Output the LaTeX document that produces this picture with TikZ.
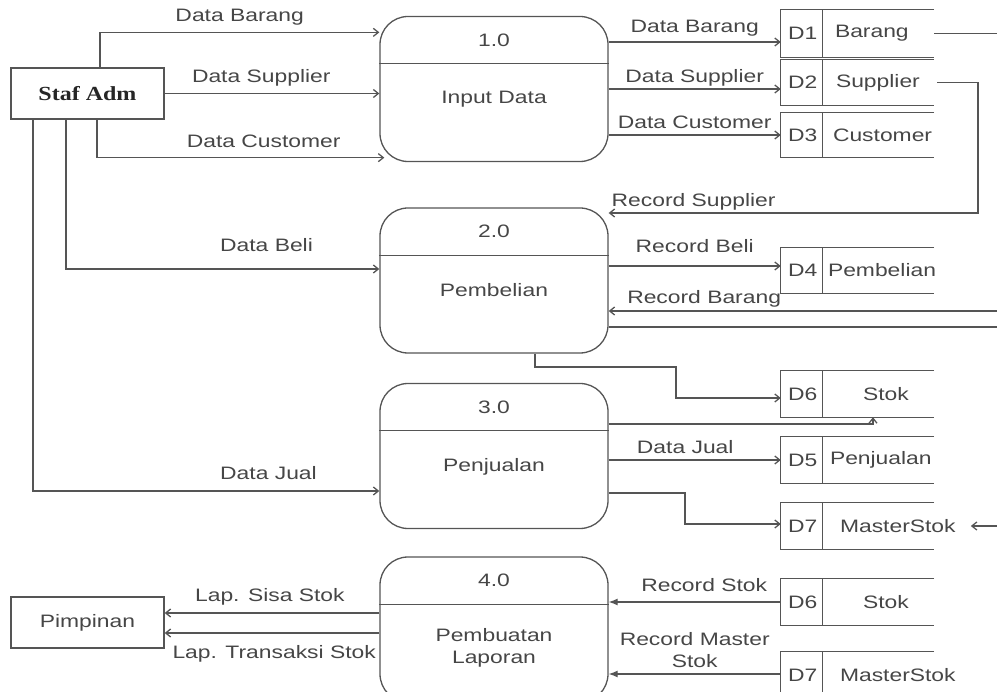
\documentclass[tikz,border=0pt]{standalone}
\usepackage{fontspec}
\setmainfont[FakeStretch=1.27]{Liberation Sans}
\newfontfamily\staffont[FakeStretch=1.2]{Liberation Serif}
\usetikzlibrary{arrows.meta}
\definecolor{dfdline}{RGB}{85,85,85}
\definecolor{dfdtext}{RGB}{70,70,70}
\tikzset{
  dfd/.style={draw=dfdline,line width=1.3pt},
  flow/.style={dfd,-{Straight Barb[length=5pt,width=8pt]}},
  flowin/.style={dfd,-{Latex[length=9pt,width=7pt]}},
  proc/.style={dfd,rounded corners=28pt,minimum width=228pt,minimum height=145pt,inner sep=0pt},
  ext/.style={dfd,minimum width=153pt,minimum height=51pt,inner sep=0pt},
  storebox/.style={minimum width=153pt,inner sep=0pt},
  lbl/.style={text=dfdtext,inner sep=1pt,font=\fontsize{18}{22}\selectfont},
}
% data store: name, y, height, id, label, label offset
\newcommand{\dstore}[6]{%
  \node[storebox,minimum height=#3pt] (#1) at (857.5,#2) {};
  \draw[dfd] (#1.north east) -- (#1.north west) -- (#1.south west) -- (#1.south east)
    ([xshift=42pt]#1.north west) -- ([xshift=42pt]#1.south west);
  \node[lbl] (#1-id) at ([xshift=22pt]#1.west) {#4};
  \node[lbl,anchor=west] (#1-l) at ([xshift=#6pt]#1.west) {#5};
}

\begin{document}
\begin{tikzpicture}[x=1pt,y=-1pt]
  \useasboundingbox (0,0) rectangle (997,692);
  \clip (0,0) rectangle (997,692);

  % externals
  \node[ext,text=black!85,font=\staffont\bfseries\fontsize{20}{24}\selectfont] (sa) at (87.5,93.5) {Staf Adm};
  \node[lbl,ext] (pim) at (87.5,622.5) {Pimpinan};

  % processes
  \node[proc] (p1) at (494,89) {};
  \node[proc] (p2) at (494,280.5) {};
  \node[proc] (p3) at (494,456) {};
  \node[proc] (p4) at (494,629.5) {};
  \foreach \p/\num in {p1/1.0,p2/2.0,p3/3.0,p4/4.0} {
    \draw[dfd] ([yshift=-48pt]\p.north west) -- ([yshift=-48pt]\p.north east);
    \node[lbl] (\p-no) at ([yshift=-24pt]\p.north) {\num};
  }
  \node[lbl] (p1-nm) at ([yshift=-10pt]p1.center) {Input Data};
  \node[lbl] (p2-nm) at ([yshift=-9.5pt]p2.center) {Pembelian};
  \node[lbl] (p3-nm) at ([yshift=-11pt]p3.center) {Penjualan};
  \node[lbl,align=center] (p4-nm) at ([yshift=-18.5pt]p4.center) {Pembuatan\\Laporan};

  % data stores
  \dstore{d1}{33.5}{47}{D1}{Barang}{53}
  \dstore{d2}{82.5}{45}{D2}{Supplier}{54}
  \dstore{d3}{135}{44}{D3}{Customer}{51}
  \dstore{d4}{270.5}{45}{D4}{Pembelian}{46}
  \dstore{d6a}{394}{46}{D6}{Stok}{81}
  \dstore{d5}{460}{46}{D5}{Penjualan}{48}
  \dstore{d7a}{526}{46}{D7}{MasterStok}{58}
  \dstore{d6b}{602}{46}{D6}{Stok}{81}
  \dstore{d7b}{675}{46}{D7}{MasterStok}{58}

  % flows from Staf Adm
  \draw[flow] ([xshift=12.5pt]sa.north) |- ([yshift=-16.5pt]p1.north west)
    node[lbl,pos=0.75,above=5pt] {Data Barang};
  \draw[flow] (sa.east) -- (p1.west |- sa.east)
    node[lbl,pos=0.45,above=6pt] {Data Supplier};
  \draw[flow] ([xshift=9.5pt]sa.south) |- ([shift={(5pt,4.5pt)}]p1.south west)
    node[lbl,pos=0.79,above=8pt] {Data Customer};
  \draw[flow] ([xshift=-21.5pt]sa.south) |- (p2.west |- 0,269)
    node[lbl,pos=0.82,above=16pt] {Data Beli};
  \draw[flow] ([xshift=-54.5pt]sa.south) |- (p3.west |- 0,491)
    node[lbl,pos=0.84,above=10pt] {Data Jual};

  % flows of 1.0
  \draw[flow] (p1.east |- 0,42) -- (d1.west |- 0,42)
    node[lbl,midway,above=4pt] {Data Barang};
  \draw[flow] (p1.east |- 0,89) -- (d2.west |- 0,89)
    node[lbl,midway,above=1pt] {Data Supplier};
  \draw[flow] (p1.east |- d3.west) -- (d3.west)
    node[lbl,midway,above=5pt] {Data Customer};
  \draw[dfd] (d1.east) -- ++(70,0);
  \draw[flow] ([xshift=16pt]d2-l.east) -| (978,213) -- (p2.east |- 0,213)
    node[lbl,pos=0.77,above=1pt] {Record Supplier};

  % flows of 2.0
  \draw[flow] (p2.east |- 0,266) -- (d4.west |- 0,266)
    node[lbl,midway,above=12pt] {Record Beli};
  \coordinate (rbar) at (1000,311);
  \draw[flow] (rbar) -- (p2.east |- rbar)
    node[lbl,pos=0.756,above=2pt] {Record Barang};
  \coordinate (p2out) at (1000,327);
  \draw[dfd] (p2.east |- p2out) -- (p2out);
  \draw[flow] ([xshift=41pt]p2.south) |- (676,367) |- (d6a.west |- 0,398);

  % flows of 3.0
  \draw[flow] (p3.east |- 0,424) -| ([xshift=15.5pt]d6a.south);
  \draw[flow] (p3.east |- d5.west) -- (d5.west)
    node[lbl,pos=0.445,above=5pt] {Data Jual};
  \draw[flow] (p3.east |- 0,493) -| (685,524) -- (d7a.west |- 0,524);
  \coordinate (mstok) at (1000,526);
  \draw[flow] (mstok) -- ([xshift=14pt]d7a-l.east);

  % flows of 4.0
  \draw[flowin] (d6b.west) -- (p4.east |- d6b.west)
    node[lbl,pos=0.445,above=9pt] {Record Stok};
  \draw[flowin] (d7b.west |- 0,674) -- (p4.east |- 0,674)
    node[lbl,midway,above=5pt,align=center] {Record Master\\Stok};
  \draw[flow] (p4.west |- 0,613) -- (pim.east |- 0,613)
    node[lbl,pos=0.51,above=6pt] {Lap. Sisa Stok};
  \draw[flow] (p4.west |- 0,633) -- (pim.east |- 0,633)
    node[lbl,pos=0.49,below=11pt] {Lap. Transaksi Stok};
\end{tikzpicture}
\end{document}
